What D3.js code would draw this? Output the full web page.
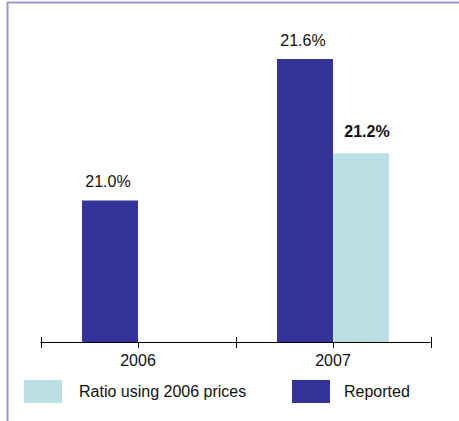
<!DOCTYPE html>
<html><head><meta charset="utf-8">
<script src="https://cdn.jsdelivr.net/npm/d3@7"></script>
<style>body{margin:0;background:#fff}svg{display:block;font-family:Arial,"Liberation Sans",sans-serif}</style>
</head><body><svg id="c" width="459" height="421"></svg>
<script>
const categories = ["2006", "2007"];
const seriesNames = ["Reported", "Ratio using 2006 prices"];
const reported = [21.0, 21.6];
const ratio2006 = [null, 21.2];
const reportedLabels = ["21.0%", "21.6%"];
const ratioLabels = [null, "21.2%"];
const colors = {"Reported": "#333399", "Ratio using 2006 prices": "#bae0e3"};

const svg = d3.select("#c");
// frame
svg.append("line").attr("x1",7).attr("x2",459).attr("y1",2.5).attr("y2",2.5).attr("stroke","#9999cc").attr("stroke-width",2);
svg.append("line").attr("x1",7.5).attr("x2",7.5).attr("y1",2).attr("y2",421).attr("stroke","#9999cc").attr("stroke-width",2);

const x = d3.scaleBand().domain(categories).range([40.5, 430.5]);
const y = d3.scaleLinear().domain([20.4, 21.6]).range([342, 59]);
const barW = 56;

const g = svg.append("g");
g.selectAll("rect.rep").data(categories).join("rect")
  .attr("x", d => x(d) + x.bandwidth()/2 - barW)
  .attr("width", barW)
  .attr("y", (d,i) => y(reported[i]))
  .attr("height", (d,i) => y(20.4) - y(reported[i]))
  .attr("fill", colors["Reported"]);
g.selectAll("rect.rat").data(categories.filter((d,i)=>ratio2006[i]!=null)).join("rect")
  .attr("x", d => x(d) + x.bandwidth()/2)
  .attr("width", barW)
  .attr("y", d => y(ratio2006[categories.indexOf(d)]))
  .attr("height", d => y(20.4) - y(ratio2006[categories.indexOf(d)]))
  .attr("fill", colors["Ratio using 2006 prices"]);

g.selectAll("text.rl").data(categories).join("text")
  .attr("x", d => x(d) + x.bandwidth()/2 - barW/2 - 2)
  .attr("y", (d,i) => y(reported[i]) - 13.5)
  .attr("text-anchor","middle").attr("font-size",16).attr("fill","#111")
  .text((d,i) => reportedLabels[i]);
g.selectAll("text.al").data(categories.filter((d,i)=>ratio2006[i]!=null)).join("text")
  .attr("x", d => x(d) + x.bandwidth()/2 + barW/2 + 6)
  .attr("y", d => y(ratio2006[categories.indexOf(d)]) - 16)
  .attr("text-anchor","middle").attr("font-size",16).attr("font-weight","bold").attr("fill","#111")
  .text(d => ratioLabels[categories.indexOf(d)]);

const ax = svg.append("g");
ax.append("line").attr("x1",x.range()[0]).attr("x2",x.range()[1]).attr("y1",342.5).attr("y2",342.5).attr("stroke","#000");
const bounds = categories.map(d => x(d)).concat([x.range()[1]]);
ax.selectAll("line.b").data(bounds).join("line")
  .attr("x1", d=>Math.round(d)+0.5).attr("x2", d=>Math.round(d)+0.5).attr("y1",337).attr("y2",348).attr("stroke","#000");
ax.selectAll("line.c").data(categories).join("line")
  .attr("x1", d=>Math.round(x(d)+x.bandwidth()/2)+0.5).attr("x2", d=>Math.round(x(d)+x.bandwidth()/2)+0.5).attr("y1",342).attr("y2",348).attr("stroke","#000");
ax.selectAll("text").data(categories).join("text")
  .attr("x", d=>x(d)+x.bandwidth()/2).attr("y",366)
  .attr("text-anchor","middle").attr("font-size",16).attr("fill","#111").text(d=>d);

const legend = [
  {name: seriesNames[1], sx: 24, tx: 79},
  {name: seriesNames[0], sx: 292, tx: 344}
];
const lg = svg.append("g");
lg.selectAll("rect").data(legend).join("rect")
  .attr("x", d=>d.sx).attr("y",380).attr("width",38).attr("height",23)
  .attr("fill", d=>colors[d.name]);
lg.selectAll("text").data(legend).join("text")
  .attr("x", d=>d.tx).attr("y",397).attr("font-size",16).attr("fill","#111").text(d=>d.name);
</script></body></html>
